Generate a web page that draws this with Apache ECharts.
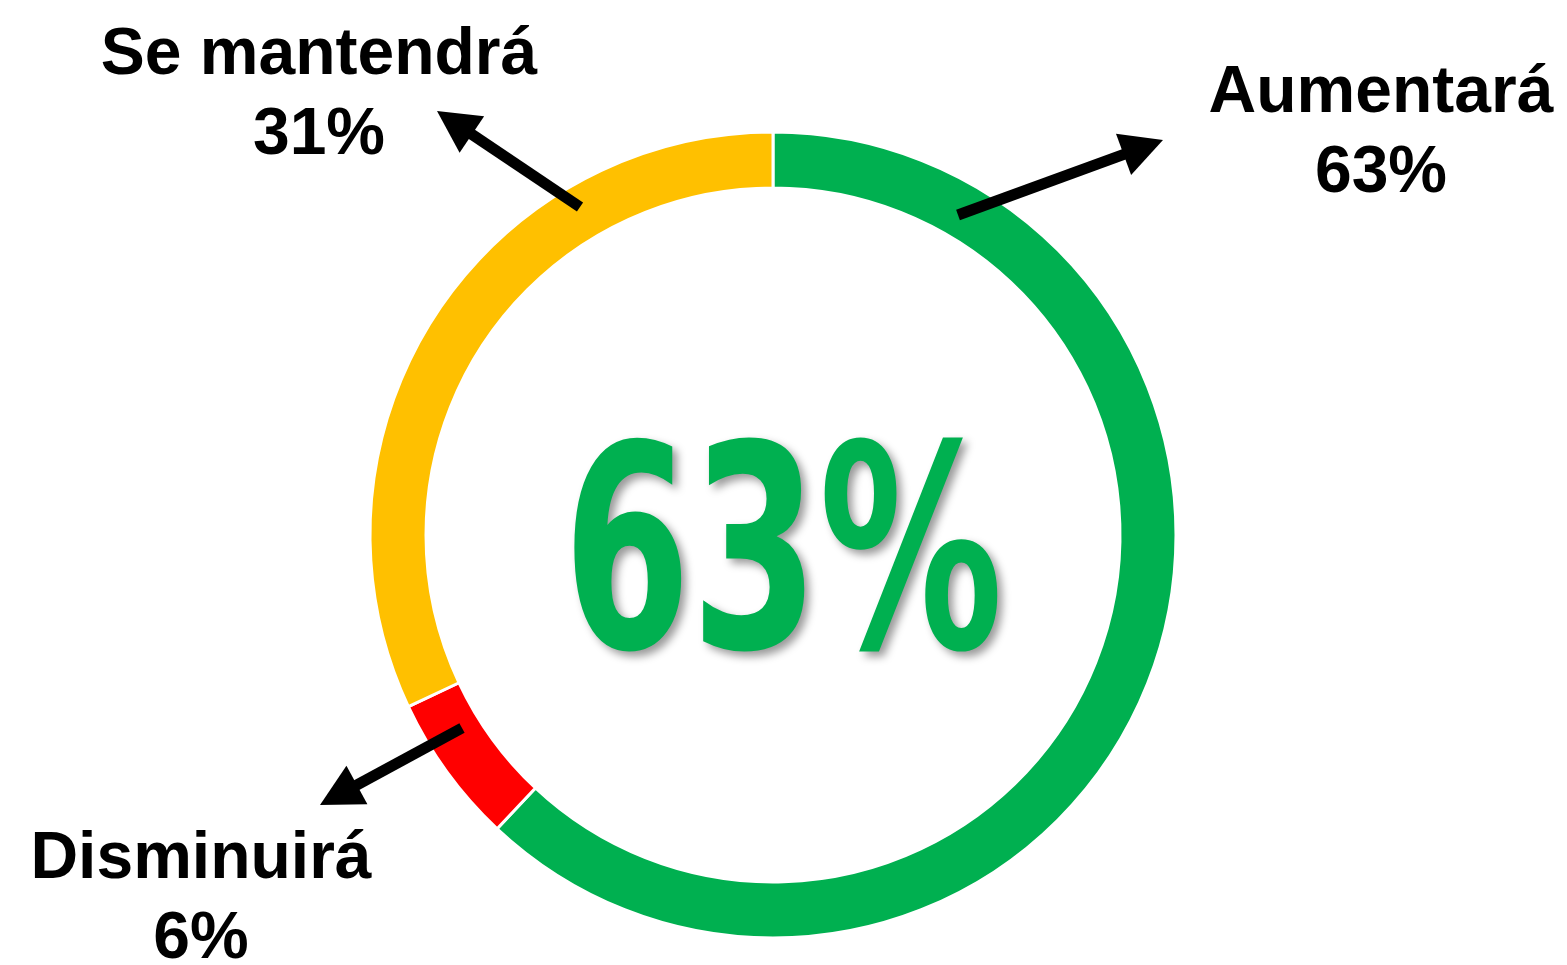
<!DOCTYPE html>
<html>
<head>
<meta charset="utf-8">
<script src="https://cdn.jsdelivr.net/npm/echarts@6/dist/echarts.min.js"></script>
<style>
html,body{margin:0;padding:0;background:#fff;}
#main{width:1567px;height:965px;}
</style>
</head>
<body>
<div id="main"></div>
<script>
// Data
const categories = ['Aumentará', 'Disminuirá', 'Se mantendrá'];
const arcValues = [62, 6, 32];          // share of the ring as drawn
const labelPercents = [63, 6, 31];      // percentages printed in the labels
const colors = ['#00B050', '#FF0000', '#FFC000'];
const centerValue = '63%';

const chart = echarts.init(document.getElementById('main'), null, {renderer: 'canvas'});
const cx = 773, cy = 535;

// arrows: [tailX, tailY, tipX, tipY]
const arrows = [
  [958, 215, 1163, 140],
  [462, 728, 320, 805],
  [580, 207, 437, 111]
];
// label centres [x, firstLineMiddleY]
const labelPos = [
  [1381, 94],
  [201, 860],
  [319, 56]
];

function arrowGraphics(a) {
  const [x1, y1, x2, y2] = a;
  const dx = x2 - x1, dy = y2 - y1;
  const len = Math.sqrt(dx * dx + dy * dy);
  const ux = dx / len, uy = dy / len;
  const headLen = 42, headW = 22;
  const bx = x2 - ux * headLen, by = y2 - uy * headLen;
  const px = -uy, py = ux;
  return [
    {type: 'line', shape: {x1: x1, y1: y1, x2: bx + ux * 4, y2: by + uy * 4},
      style: {stroke: '#000', lineWidth: 11}, z: 10},
    {type: 'polygon', shape: {points: [[x2, y2], [bx + px * headW, by + py * headW], [bx - px * headW, by - py * headW]]},
      style: {fill: '#000'}, z: 10}
  ];
}

// measure center text width
const fontFamily = '"DejaVu Sans Condensed", "Liberation Sans", sans-serif';
const fs = 283;
const mc = document.createElement('canvas').getContext('2d');
mc.font = 'bold ' + fs + 'px ' + fontFamily;
const tw = mc.measureText(centerValue).width;
const sx = 440 / tw;

const graphics = [];
arrows.forEach(a => graphics.push(...arrowGraphics(a)));
categories.forEach((c, i) => {
  graphics.push({
    type: 'text', x: labelPos[i][0], y: labelPos[i][1], z: 20,
    style: {text: c, fill: '#000', font: 'bold 66px "Liberation Sans", Arial, sans-serif',
      textAlign: 'center', textVerticalAlign: 'middle'}
  });
  graphics.push({
    type: 'text', x: labelPos[i][0], y: labelPos[i][1] + 80, z: 20,
    style: {text: labelPercents[i] + '%', fill: '#000', font: 'bold 66px "Liberation Sans", Arial, sans-serif',
      textAlign: 'center', textVerticalAlign: 'middle'}
  });
});
graphics.push({
  type: 'text', x: 783, y: 574, scaleX: sx, scaleY: 1, z: 5,
  style: {text: centerValue, fill: '#00B050', font: 'bold ' + fs + 'px ' + fontFamily,
    textAlign: 'center', textVerticalAlign: 'middle',
    textShadowColor: 'rgba(0,0,0,0.4)', textShadowBlur: 8, textShadowOffsetX: 5, textShadowOffsetY: 5}
});

chart.setOption({
  backgroundColor: '#ffffff',
  animation: false,
  series: [{
    type: 'pie',
    center: [cx, cy],
    radius: [347, 403],
    startAngle: 90,
    clockwise: true,
    silent: true,
    label: {show: false},
    labelLine: {show: false},
    itemStyle: {borderColor: '#ffffff', borderWidth: 3},
    data: categories.map((c, i) => ({name: c, value: arcValues[i], itemStyle: {color: colors[i]}}))
  }],
  graphic: graphics
});
</script>
</body>
</html>
